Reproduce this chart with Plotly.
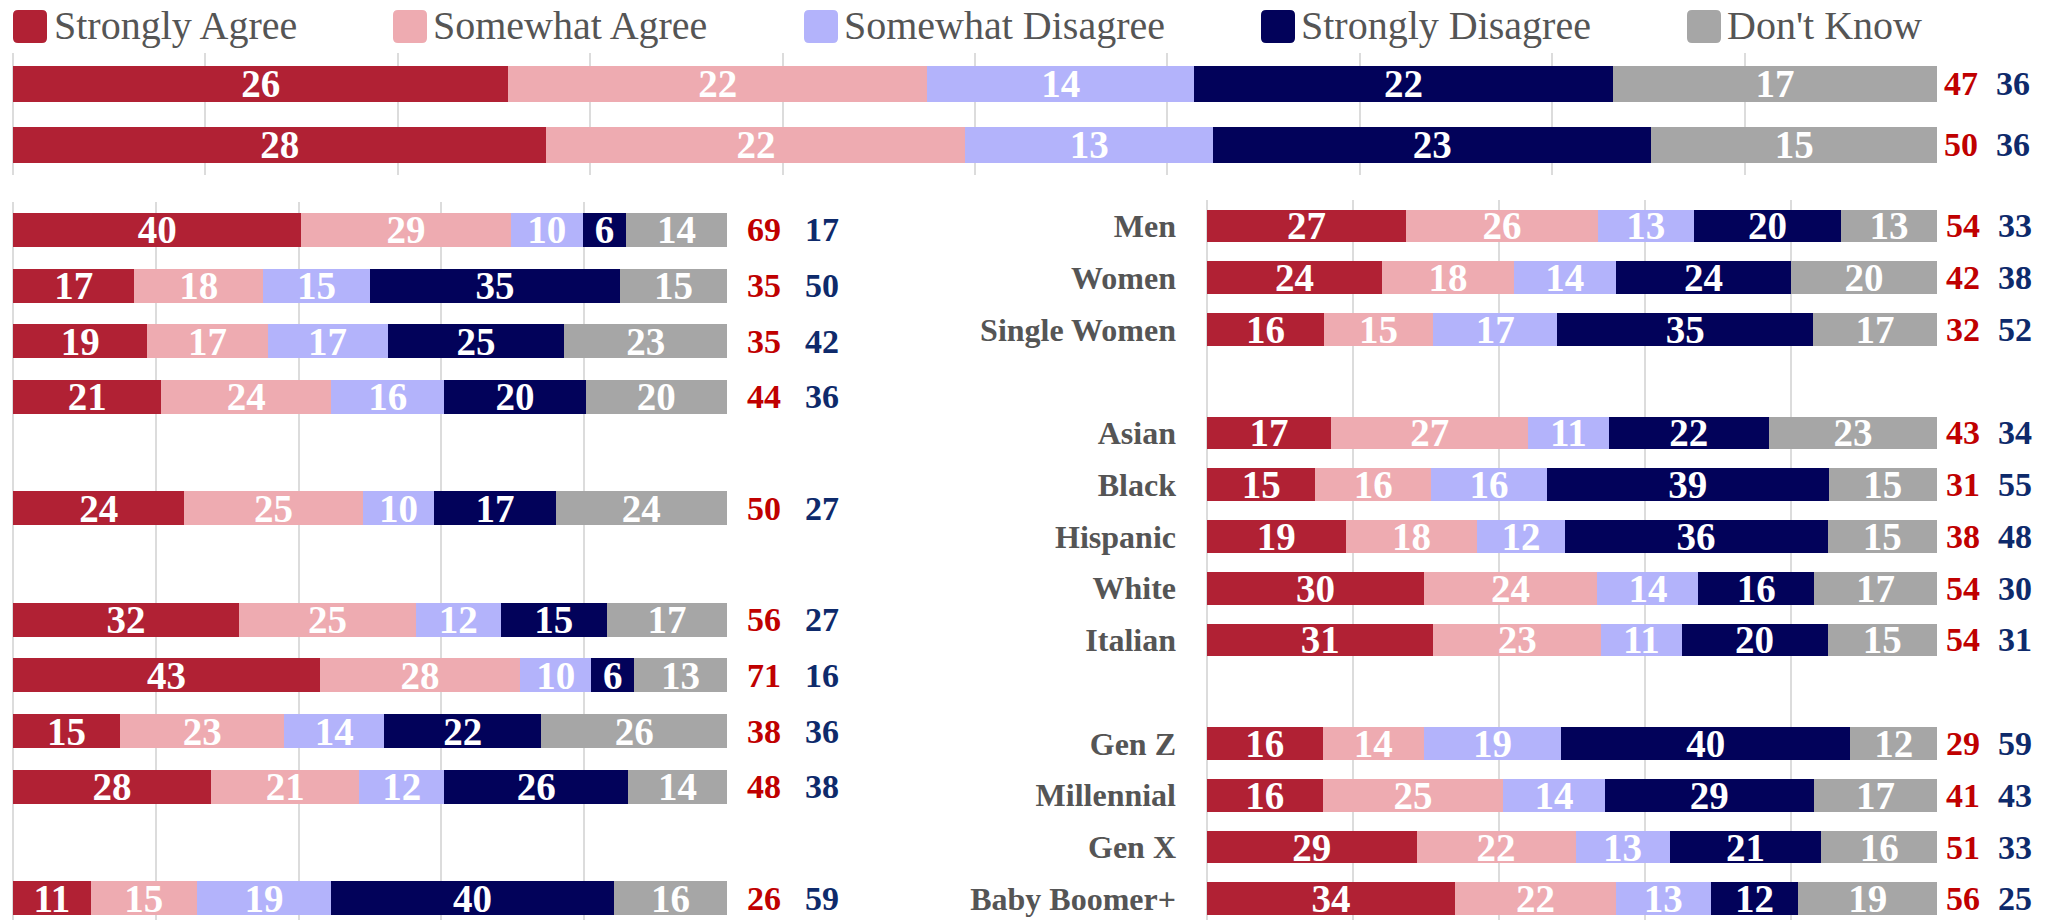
import plotly.graph_objects as go

# ---------------- data ----------------
series_names = ["Strongly Agree", "Somewhat Agree", "Somewhat Disagree", "Strongly Disagree", "Don't Know"]
series_colors = ["#B12134", "#EEABB1", "#B3B3FB", "#02025A", "#A6A6A6"]

# top panel (two overall rows)
top_cats = ["Overall A", "Overall B"]
top_strongly_agree = [26, 28]
top_somewhat_agree = [22, 22]
top_somewhat_disagree = [14, 13]
top_strongly_disagree = [22, 23]
top_dont_know = [17, 15]
top_net_agree = [47, 50]
top_net_disagree = [36, 36]

# left panel (unlabelled rows, None = spacer row)
left_cats = ["L1", "L2", "L3", "L4", "gap1", "L5", "gap2", "L6", "L7", "L8", "L9", "gap3", "L10"]
left_strongly_agree = [40, 17, 19, 21, None, 24, None, 32, 43, 15, 28, None, 11]
left_somewhat_agree = [29, 18, 17, 24, None, 25, None, 25, 28, 23, 21, None, 15]
left_somewhat_disagree = [10, 15, 17, 16, None, 10, None, 12, 10, 14, 12, None, 19]
left_strongly_disagree = [6, 35, 25, 20, None, 17, None, 15, 6, 22, 26, None, 40]
left_dont_know = [14, 15, 23, 20, None, 24, None, 17, 13, 26, 14, None, 16]
left_net_agree = [69, 35, 35, 44, None, 50, None, 56, 71, 38, 48, None, 26]
left_net_disagree = [17, 50, 42, 36, None, 27, None, 27, 16, 36, 38, None, 59]

# right panel (labelled rows, blank labels = spacer rows)
right_cats = ["Men", "Women", "Single Women", " ", "Asian", "Black", "Hispanic", "White", "Italian",
              "  ", "Gen Z", "Millennial", "Gen X", "Baby Boomer+"]
right_strongly_agree = [27, 24, 16, None, 17, 15, 19, 30, 31, None, 16, 16, 29, 34]
right_somewhat_agree = [26, 18, 15, None, 27, 16, 18, 24, 23, None, 14, 25, 22, 22]
right_somewhat_disagree = [13, 14, 17, None, 11, 16, 12, 14, 11, None, 19, 14, 13, 13]
right_strongly_disagree = [20, 24, 35, None, 22, 39, 36, 16, 20, None, 40, 29, 21, 12]
right_dont_know = [13, 20, 17, None, 23, 15, 15, 17, 15, None, 12, 17, 16, 19]
right_net_agree = [54, 42, 32, None, 43, 31, 38, 54, 54, None, 29, 41, 51, 56]
right_net_disagree = [33, 38, 52, None, 34, 55, 48, 30, 31, None, 59, 43, 33, 25]

# ---------------- figure ----------------
W, H = 2054, 920
FONT = "Liberation Serif"
RED_TXT = "#C00000"
NAVY_TXT = "#0E2A6B"
GRID = "#DCDCDC"

def px_x(p):
    return p / W

def px_y(p):
    return 1 - p / H

fig = go.Figure()

panels = [
    dict(cats=top_cats, series=[top_strongly_agree, top_somewhat_agree, top_somewhat_disagree,
                                top_strongly_disagree, top_dont_know],
         agree=top_net_agree, disagree=top_net_disagree, xa="x", ya="y", width=0.59,
         ann_x=(1961, 2013)),
    dict(cats=left_cats, series=[left_strongly_agree, left_somewhat_agree, left_somewhat_disagree,
                                 left_strongly_disagree, left_dont_know],
         agree=left_net_agree, disagree=left_net_disagree, xa="x2", ya="y2", width=0.61,
         ann_x=(764, 822)),
    dict(cats=right_cats, series=[right_strongly_agree, right_somewhat_agree, right_somewhat_disagree,
                                  right_strongly_disagree, right_dont_know],
         agree=right_net_agree, disagree=right_net_disagree, xa="x3", ya="y3", width=0.63,
         ann_x=(1963, 2015)),
]

annotations = []
for p in panels:
    for name, color, vals in zip(series_names, series_colors, p["series"]):
        fig.add_trace(go.Bar(
            y=p["cats"], x=vals, orientation="h", name=name,
            marker=dict(color=color, line=dict(width=0)),
            width=p["width"],
            text=vals, textposition="inside", insidetextanchor="middle", textangle=0,
            textfont=dict(family=FONT, size=39, color="white", weight="bold"),
            xaxis=p["xa"], yaxis=p["ya"], showlegend=False, hoverinfo="skip",
        ))
    for cat, a, d in zip(p["cats"], p["agree"], p["disagree"]):
        if a is None:
            continue
        annotations.append(dict(x=px_x(p["ann_x"][0]), xref="paper", y=cat, yref=p["ya"],
                                text=str(a), showarrow=False, xanchor="center", yanchor="middle",
                                font=dict(family=FONT, size=34, color=RED_TXT, weight="bold")))
        annotations.append(dict(x=px_x(p["ann_x"][1]), xref="paper", y=cat, yref=p["ya"],
                                text=str(d), showarrow=False, xanchor="center", yanchor="middle",
                                font=dict(family=FONT, size=34, color=NAVY_TXT, weight="bold")))

# custom legend (large rounded swatches)
legend_swatch_x = [13, 393, 804, 1261, 1687]
legend_text_x = [52, 431, 842, 1299, 1725]
shapes = []
for name, color, sx, tx in zip(series_names, series_colors, legend_swatch_x, legend_text_x):
    x0, x1, y0, y1, r = sx, sx + 34, 10, 43, 5
    path = (f"M {px_x(x0 + r)},{px_y(y0)} L {px_x(x1 - r)},{px_y(y0)} "
            f"Q {px_x(x1)},{px_y(y0)} {px_x(x1)},{px_y(y0 + r)} L {px_x(x1)},{px_y(y1 - r)} "
            f"Q {px_x(x1)},{px_y(y1)} {px_x(x1 - r)},{px_y(y1)} L {px_x(x0 + r)},{px_y(y1)} "
            f"Q {px_x(x0)},{px_y(y1)} {px_x(x0)},{px_y(y1 - r)} L {px_x(x0)},{px_y(y0 + r)} "
            f"Q {px_x(x0)},{px_y(y0)} {px_x(x0 + r)},{px_y(y0)} Z")
    shapes.append(dict(type="path", path=path, xref="paper", yref="paper",
                       fillcolor=color, line=dict(width=0)))
    annotations.append(dict(x=px_x(tx), xref="paper", y=px_y(26), yref="paper", text=name,
                            showarrow=False, xanchor="left", yanchor="middle",
                            font=dict(family=FONT, size=40, color="#555555")))

xcommon = dict(range=[0, 100], showgrid=True, gridcolor=GRID, gridwidth=1.5,
               zeroline=True, zerolinecolor=GRID, zerolinewidth=1.5,
               showticklabels=False, ticks="", showline=False, fixedrange=True)
ycommon = dict(type="category", categoryorder="array", showgrid=False, zeroline=False,
               ticks="", showline=False, fixedrange=True)

fig.update_layout(
    width=W, height=H,
    margin=dict(l=0, r=0, t=0, b=0),
    paper_bgcolor="white", plot_bgcolor="white",
    barmode="stack", barnorm="percent",
    uniformtext=dict(minsize=39, mode="show"),
    showlegend=False,
    font=dict(family=FONT),
    xaxis=dict(domain=[px_x(13), px_x(1937)], anchor="y", dtick=10, **xcommon),
    yaxis=dict(domain=[px_y(175), px_y(53)], anchor="x", categoryarray=top_cats,
               range=[1.5, -0.5], showticklabels=False, **ycommon),
    xaxis2=dict(domain=[px_x(13), px_x(727)], anchor="y2", dtick=20, **xcommon),
    yaxis2=dict(domain=[0, px_y(202)], anchor="x2", categoryarray=left_cats,
                range=[12.39, -0.5], showticklabels=False, **ycommon),
    xaxis3=dict(domain=[px_x(1207), px_x(1937)], anchor="y3", dtick=20, **xcommon),
    yaxis3=dict(domain=[0, px_y(200)], anchor="x3", categoryarray=right_cats,
                range=[13.41, -0.5], showticklabels=True, ticklabelstandoff=30,
                tickfont=dict(family=FONT, size=32, color="#555555", weight="bold"), **ycommon),
    annotations=annotations,
    shapes=shapes,
)

# remove the browser's default 8px body margin so the figure fills the window exactly
fig.write_html("out.html", config={"displayModeBar": False},
               post_script="document.body.style.margin='0';")
